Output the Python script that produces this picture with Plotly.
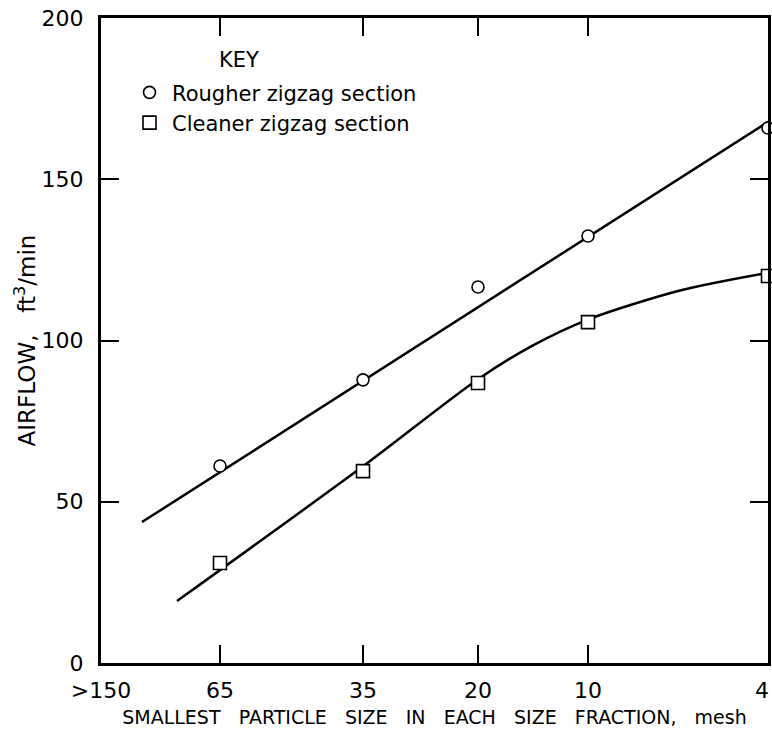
import plotly.graph_objects as go

# Axis categories (mesh) and their positions along the x scale
mesh_labels = [">150", "65", "35", "20", "10", "4"]
mesh_pos = [0, 119, 262, 377, 487, 667]

# Measured points (mesh 65, 35, 20, 10, 4)
point_pos = mesh_pos[1:]
rougher = [61.1, 87.8, 116.6, 132.4, 165.9]
cleaner = [31.0, 59.5, 86.8, 105.7, 120.0]

# Fitted curves
rougher_fit_x = [41, 667]
rougher_fit_y = [43.7, 167.8]
cleaner_fit_x = [76, 262, 377, 432, 487, 579, 667]
cleaner_fit_y = [19.2, 61.0, 88.0, 98.5, 106.5, 115.5, 121.0]

y_ticks = [0, 50, 100, 150, 200]

FONT = "DejaVu Sans"
SP = "\u00a0"

fig = go.Figure()
fig.add_trace(go.Scatter(x=rougher_fit_x, y=rougher_fit_y, mode="lines",
                         line=dict(color="black", width=2.5), showlegend=False, hoverinfo="skip"))
fig.add_trace(go.Scatter(x=cleaner_fit_x, y=cleaner_fit_y, mode="lines",
                         line=dict(color="black", width=2.5, shape="spline", smoothing=0.8),
                         showlegend=False, hoverinfo="skip"))
fig.add_trace(go.Scatter(x=point_pos, y=rougher, mode="markers", name="Rougher zigzag section",
                         cliponaxis=False,
                         marker=dict(symbol="circle", size=12, color="white",
                                     line=dict(color="black", width=1.6))))
fig.add_trace(go.Scatter(x=point_pos, y=cleaner, mode="markers", name="Cleaner zigzag section",
                         cliponaxis=False,
                         marker=dict(symbol="square", size=13, color="white",
                                     line=dict(color="black", width=1.6))))

axis_common = dict(showgrid=False, zeroline=False, showline=True, linecolor="black", linewidth=3,
                   mirror="ticks", ticks="inside", ticklen=18, tickwidth=2, tickcolor="black",
                   automargin=False,
                   tickfont=dict(family=FONT, size=22, color="black"))

xtitle = (SP * 3).join(["SMALLEST", "PARTICLE", "SIZE", "IN", "EACH", "SIZE", "FRACTION,", "mesh"])
# last label ("4") sits at the right edge of the figure; drawn as a right-anchored text instead
fig.update_xaxes(range=[0, 667], tickmode="array", tickvals=mesh_pos,
                 ticktext=mesh_labels[:-1] + [""],
                 ticklabelstandoff=6,
                 title=dict(text=xtitle, font=dict(family=FONT, size=19, color="black"), standoff=9),
                 **axis_common)
fig.update_yaxes(range=[0, 200], tickmode="array", tickvals=y_ticks,
                 ticklabelstandoff=10, ticklabeloverflow="allow",
                 title=dict(text="AIRFLOW," + SP * 3 + "ft<sup>3</sup>/min",
                            font=dict(family=FONT, size=23, color="black"), standoff=0),
                 **axis_common)

fig.add_annotation(text=mesh_labels[-1], x=mesh_pos[-1], y=0, xref="x", yref="paper",
                   xanchor="right", yanchor="middle", xshift=3, yshift=-27,
                   showarrow=False, font=dict(family=FONT, size=22, color="black"))

fig.add_annotation(text="KEY", x=0.207, y=0.935, xref="paper", yref="paper",
                   xanchor="center", yanchor="middle",
                   showarrow=False, font=dict(family=FONT, size=21, color="black"))

fig.update_layout(
    width=772, height=729,
    margin=dict(l=101, r=4, t=18, b=66),
    plot_bgcolor="white", paper_bgcolor="white",
    font=dict(family=FONT, color="black"),
    legend=dict(x=0.039, y=0.916, xanchor="left", yanchor="top",
                font=dict(family=FONT, size=21, color="black"),
                bgcolor="rgba(0,0,0,0)", itemwidth=35, tracegroupgap=0),
)

fig.write_html("out.html", config={"displayModeBar": False},
               post_script="document.body.style.margin='0';")
